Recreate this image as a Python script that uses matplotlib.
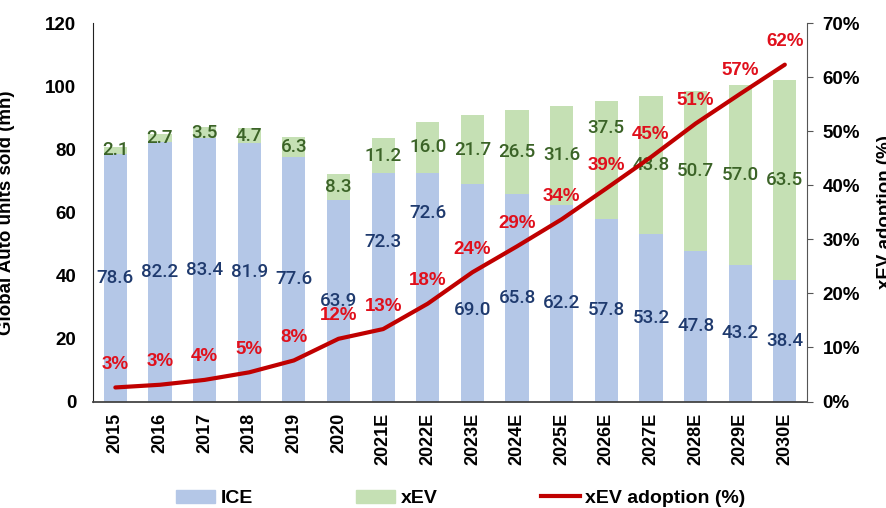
import matplotlib.pyplot as plt
from matplotlib.patches import Patch
from matplotlib.lines import Line2D
from matplotlib.ticker import FuncFormatter

plt.rcParams['font.family'] = ['Liberation Sans', 'DejaVu Sans']

# data
years = ['2015', '2016', '2017', '2018', '2019', '2020', '2021E', '2022E',
         '2023E', '2024E', '2025E', '2026E', '2027E', '2028E', '2029E', '2030E']
ice = [78.6, 82.2, 83.4, 81.9, 77.6, 63.9, 72.3, 72.6, 69.0, 65.8, 62.2, 57.8, 53.2, 47.8, 43.2, 38.4]
xev = [2.1, 2.7, 3.5, 4.7, 6.3, 8.3, 11.2, 16.0, 21.7, 26.5, 31.6, 37.5, 43.8, 50.7, 57.0, 63.5]
adoption = [2.6, 3.1, 4.0, 5.4, 7.6, 11.6, 13.4, 18.1, 23.9, 28.7, 33.7, 39.4, 45.2, 51.4, 56.9, 62.3]

# a few labels in the original were dragged away from the segment centre
ice_label_nudge = {6: 14.4, 7: 23.4, 8: -5.5}
xev_label_nudge = {11: 10.2}

ice_color = '#B4C7E7'
xev_color = '#C5E0B4'
line_color = '#C00000'

fig = plt.figure(figsize=(8.86, 5.08), dpi=100)
ax = fig.add_axes([0.105, 0.2096, 0.806, 0.7451])
x = list(range(len(years)))

ax.bar(x, ice, width=0.52, color=ice_color)
ax.bar(x, xev, width=0.52, bottom=ice, color=xev_color)

# value labels in the middle of each segment
for i in x:
    ax.text(i, ice[i] / 2 + ice_label_nudge.get(i, 0), f'{ice[i]:.1f}',
            ha='center', va='center', fontsize=13.5,
            family=['Roboto', 'Liberation Sans'], fontweight='medium', color='#1F3A6E')
    ax.text(i, ice[i] + xev[i] / 2 + xev_label_nudge.get(i, 0), f'{xev[i]:.1f}',
            ha='center', va='center', fontsize=13.5,
            family=['Roboto', 'Liberation Sans'], fontweight='medium', color='#3B6327')

ax.set_xlim(-0.5, len(years) - 0.5)
ax.set_ylim(0, 120)
ax.set_yticks(range(0, 121, 20))
ax.set_xticks(x)
ax.set_xticklabels(years, rotation=90, fontweight='bold', fontsize=13)
ax.tick_params(axis='x', length=0, pad=8)
ax.tick_params(axis='y', length=0, pad=12, labelsize=13.5)
for lab in ax.get_yticklabels():
    lab.set_fontweight('bold')
ax.set_ylabel('Global Auto units sold (mn)', fontsize=13.5, fontweight='bold')
ax.yaxis.set_label_coords(-0.109, 0.5)
ax.spines['top'].set_visible(False)
ax.spines['right'].set_visible(False)
ax.spines['left'].set_color('#222222')
ax.spines['bottom'].set_color('#444444')
ax.spines['bottom'].set_linewidth(1.3)

ax2 = ax.twinx()
ax2.plot(x, adoption, color=line_color, linewidth=3, solid_capstyle='round',
         solid_joinstyle='round')
for i in x:
    ax2.annotate(f'{adoption[i]:.0f}%', (i, adoption[i]), xytext=(0, 16.5),
                 textcoords='offset points', ha='center', va='center',
                 fontsize=13.5, fontweight='bold', color='#E0101C')
ax2.set_ylim(0, 70)
ax2.set_yticks(range(0, 71, 10))
ax2.yaxis.set_major_formatter(FuncFormatter(lambda v, p: f'{v:.0f}%'))
ax2.tick_params(axis='y', length=4, pad=7, labelsize=13.5, color='#555555')
for lab in ax2.get_yticklabels():
    lab.set_fontweight('bold')
ax2.set_ylabel('xEV adoption (%)', fontsize=13.5, fontweight='bold')
ax2.yaxis.set_label_coords(1.098, 0.5)
ax2.spines['top'].set_visible(False)
ax2.spines['left'].set_visible(False)
ax2.spines['right'].set_color('#555555')
ax2.spines['bottom'].set_visible(False)

handles = [Patch(color=ice_color, label='ICE'),
           Patch(color=xev_color, label='xEV'),
           Line2D([], [], color=line_color, linewidth=3, label='xEV adoption (%)')]
leg = fig.legend(handles=handles, loc='center', bbox_to_anchor=(0.52, 0.019), ncol=3,
                 frameon=False, fontsize=14, handlelength=2.0, handletextpad=0.3,
                 columnspacing=5.3)
for t in leg.get_texts():
    t.set_fontweight('bold')

fig.savefig('out.png', dpi=100)
